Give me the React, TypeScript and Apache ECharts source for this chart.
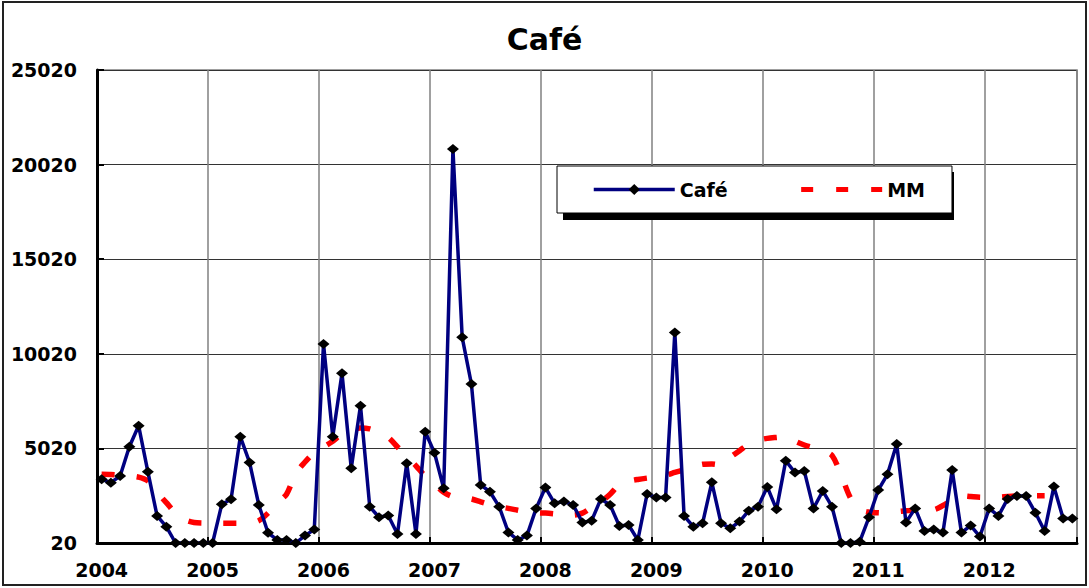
import React, { useEffect, useRef } from 'react';
import * as echarts from 'echarts';

const years = ['2004', '2005', '2006', '2007', '2008', '2009', '2010', '2011', '2012'];
const months = ['01', '02', '03', '04', '05', '06', '07', '08', '09', '10', '11', '12'];
const yTicks = [20, 5020, 10020, 15020, 20020, 25020];

const cafe = [
  3390, 3210, 3560, 5110, 6220, 3790, 1450, 880, 20, 20, 20, 20,
  20, 2070, 2330, 5640, 4280, 2030, 560, 180, 180, 20, 410, 730,
  10540, 5640, 8990, 3970, 7280, 1940, 1380, 1470, 500, 4230, 500, 5900,
  4790, 2910, 20840, 10890, 8420, 3090, 2730, 1940, 580, 180, 410, 1850,
  2950, 2120, 2210, 2030, 1110, 1200, 2350, 2030, 920, 970, 180, 2610,
  2420, 2420, 11150, 1450, 880, 1060, 3230, 1060, 800, 1150, 1730, 1940,
  2980, 1800, 4370, 3740, 3830, 1850, 2770, 1940, 20, 20, 90, 1380,
  2820, 3650, 5250, 1110, 1850, 650, 740, 570, 3880, 570, 940, 360,
  1850, 1450, 2350, 2500, 2500, 1620, 650, 3000, 1320, 1320,
];

const mm = [
  3650, 3640, 3600, 3560, 3500, 3300, 2700, 2150, 1600, 1250, 1100, 1070,
  1060, 1060, 1060, 1060, 1080, 1200, 1600, 2150, 2600, 3700, 4300, 4800,
  5100, 5400, 5800, 6000, 6100, 6050, 5850, 5600, 5100, 4600, 4100, 3550,
  3150, 2700, 2470, 2420, 2350, 2200, 2050, 1930, 1850, 1750, 1650, 1620,
  1600, 1560, 1510, 1500, 1600, 1900, 2190, 2600, 3100, 3280, 3380, 3450,
  3500, 3600, 3750, 3900, 4050, 4180, 4200, 4150, 4550, 4900, 5250, 5450,
  5550, 5600, 5640, 5400, 5200, 5050, 4900, 4650, 3600, 2400, 1800, 1650,
  1620, 1600, 1670, 1720, 1760, 1764, 1780, 2000, 2300, 2520, 2480, 2440,
  2435, 2440, 2480, 2510, 2520, 2520, 2520,
];

const categories = years.flatMap((y) => months.map((m) => `${y}-${m}`)).slice(0, cafe.length);

const FONT = "'DejaVu Sans', 'Liberation Sans', Arial, sans-serif";

export default function App() {
  const ref = useRef<HTMLDivElement>(null);

  useEffect(() => {
    if (!ref.current) return;
    const chart = echarts.init(ref.current, undefined, { renderer: 'svg' });
    chart.setOption({
      animation: false,
      backgroundColor: '#ffffff',
      title: {
        text: 'Café',
        left: 'center',
        top: 19,
        textStyle: { fontFamily: FONT, fontWeight: 'bold', fontSize: 30, color: '#000' },
      },
      graphic: [
        {
          type: 'rect',
          z: 0,
          silent: true,
          shape: { x: 3, y: 2, width: 1083, height: 583 },
          style: { fill: 'none', stroke: '#222', lineWidth: 2 },
        },
        {
          type: 'rect',
          z: 3,
          silent: true,
          shape: { x: 563, y: 172, width: 391, height: 48 },
          style: { fill: '#000' },
        },
      ],
      legend: {
        left: 557,
        top: 166,
        z: 5,
        padding: [14, 27, 14, 35],
        itemWidth: 81,
        itemHeight: 14,
        itemGap: 71,
        backgroundColor: '#fff',
        borderColor: '#000',
        borderWidth: 1,
        textStyle: { fontFamily: FONT, fontWeight: 'bold', fontSize: 19, color: '#000' },
        data: [
          { name: 'Café', lineStyle: { width: 3.5 } },
          {
            name: 'MM',
            itemStyle: { color: 'rgba(0,0,0,0)', borderWidth: 0, opacity: 0 },
            lineStyle: { width: 5, color: '#ff0000', type: [12, 23] },
          },
        ],
      },
      grid: {
        left: 97,
        right: 12,
        top: 70,
        bottom: 45,
        show: true,
        borderColor: '#808080',
        borderWidth: 1.5,
        containLabel: false,
      },
      xAxis: {
        type: 'category',
        data: categories,
        boundaryGap: true,
        axisLine: { show: true, lineStyle: { color: '#000', width: 3 } },
        axisTick: { show: true, inside: true, length: 6, interval: 11, lineStyle: { color: '#000', width: 2 } },
        axisLabel: {
          interval: 11,
          margin: 17,
          formatter: (v: string) => v.slice(0, 4),
          fontFamily: FONT,
          fontWeight: 'bold',
          fontSize: 19,
          color: '#000',
        },
        splitLine: { show: true, interval: 11, lineStyle: { color: '#808080', width: 1.5 } },
      },
      yAxis: {
        type: 'value',
        min: yTicks[0],
        max: yTicks[yTicks.length - 1],
        interval: yTicks[1] - yTicks[0],
        axisLine: { show: true, lineStyle: { color: '#000', width: 3 } },
        axisTick: { show: true, inside: true, length: 7, lineStyle: { color: '#000', width: 2 } },
        axisLabel: {
          margin: 20,
          formatter: (v: number) => String(v),
          fontFamily: FONT,
          fontWeight: 'bold',
          fontSize: 19,
          color: '#000',
        },
        splitLine: { show: true, lineStyle: { color: '#333333', width: 1.2 } },
      },
      series: [
        {
          name: 'Café',
          type: 'line',
          data: cafe,
          symbol: 'diamond',
          symbolSize: [12, 10],
          showSymbol: true,
          showAllSymbol: true,
          itemStyle: { color: '#000' },
          lineStyle: { color: '#000080', width: 3.5 },
          z: 3,
        },
        {
          name: 'MM',
          type: 'line',
          data: mm,
          smooth: 0.3,
          symbol: 'none',
          showSymbol: false,
          itemStyle: { color: '#ff0000' },
          lineStyle: { color: '#ff0000', width: 5.5, type: [13, 22], cap: 'butt' },
          z: 2,
        },
      ],
    });
    return () => chart.dispose();
  }, []);

  return (
    <div
      ref={ref}
      style={{ position: 'fixed', left: 0, top: 0, width: 1089, height: 588 }}
    />
  );
}
